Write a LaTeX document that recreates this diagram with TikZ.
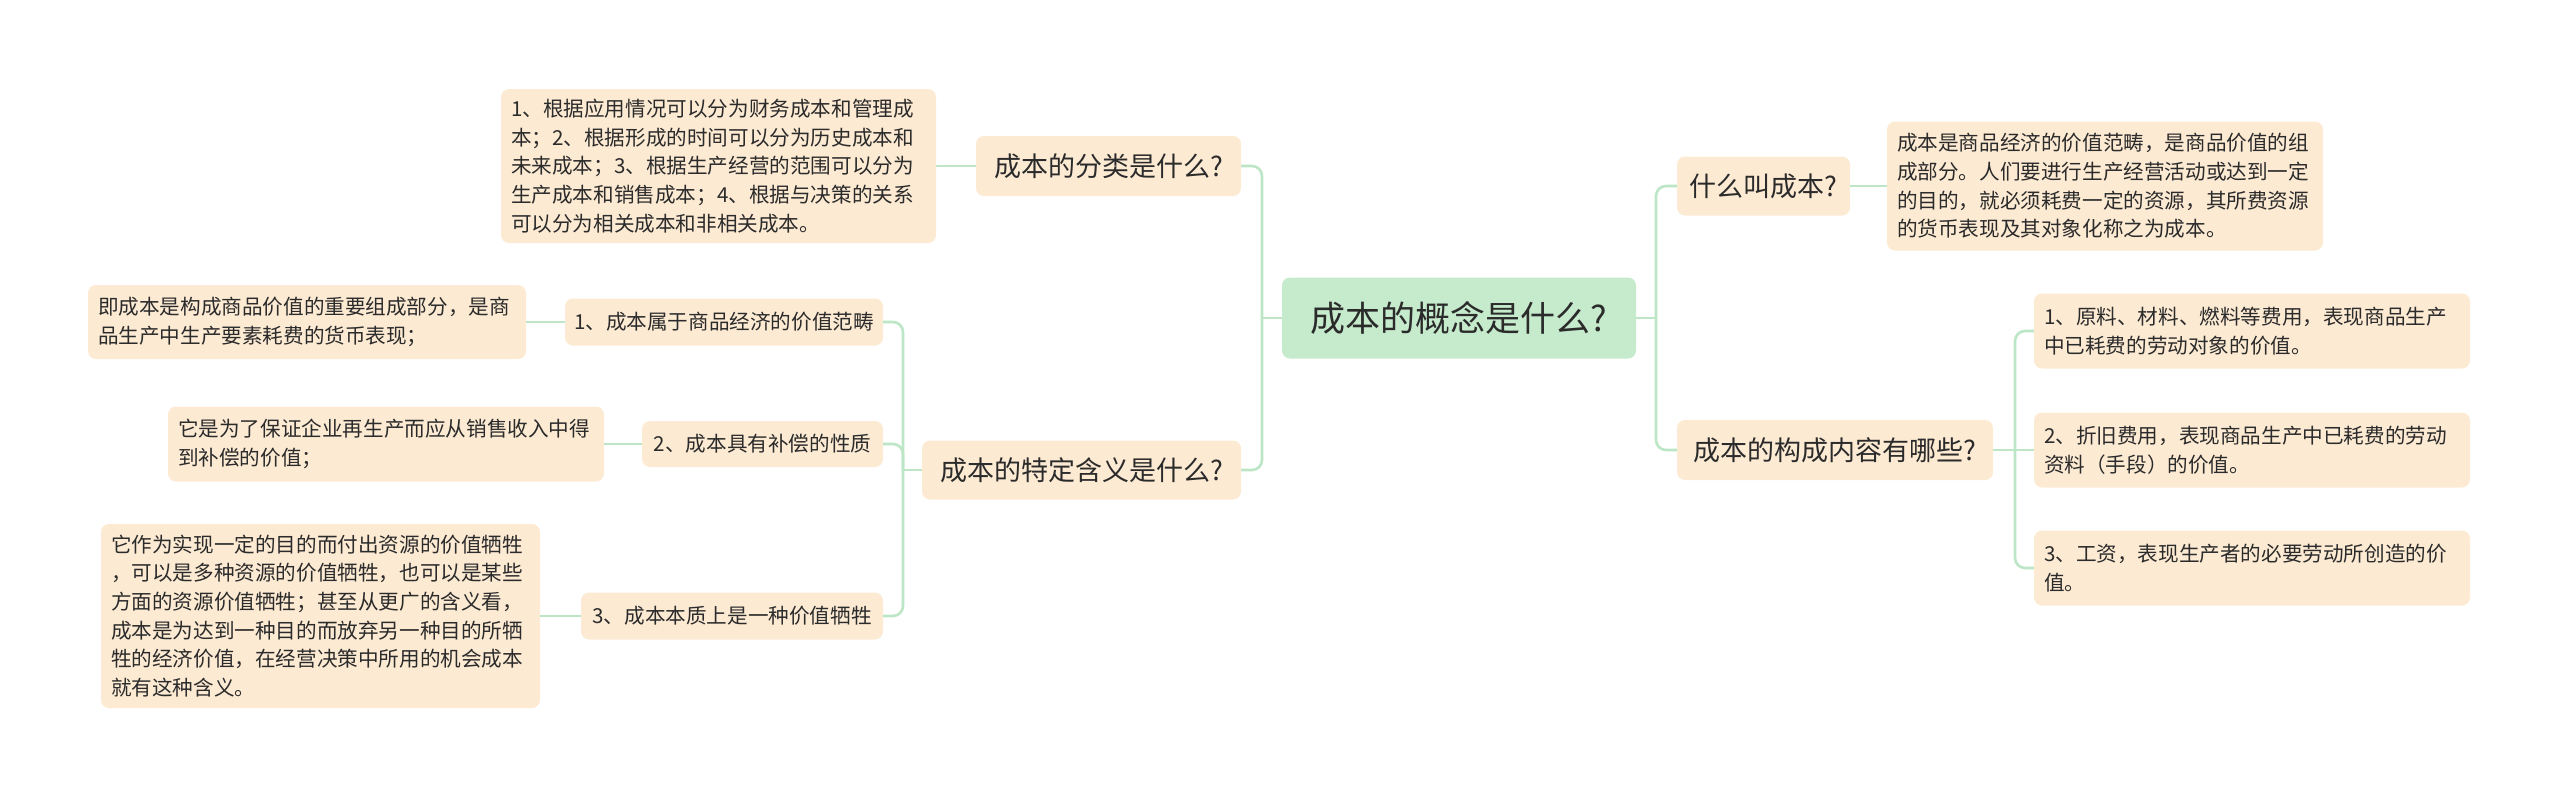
\documentclass[tikz,border=0pt]{standalone}
\usepackage{fontspec}
\setmainfont{Noto Sans CJK SC}
\definecolor{peach}{HTML}{FCEAD3}
\definecolor{rootg}{HTML}{C5EBCC}
\definecolor{linkc}{HTML}{BCE6C6}
\definecolor{txt}{HTML}{2B2B2B}
\tikzset{
  box/.style={fill=peach, rounded corners=8pt, text=txt, inner sep=0pt, align=center},
  rootbox/.style={box, fill=rootg, font=\fontsize{35}{40}\selectfont},
  topic/.style={box, font=\fontsize{27}{32}\selectfont},
  sub/.style={box, font=\fontsize{20.6}{26}\selectfont},
  leafbox/.style={box, font=\fontsize{20.6}{28.6}\selectfont, align=left, inner xsep=10pt},
  link/.style={draw=linkc, line width=2.6pt, rounded corners=10pt}
}
\begin{document}
\begin{tikzpicture}[x=1pt,y=-1pt]
\useasboundingbox (0,0) rectangle (2560,795);
% root
\node[rootbox, minimum width=354pt, minimum height=81pt] (root) at (1459,318) {成本的概念是什么?};
% left side
\node[topic, minimum width=265pt, minimum height=60pt] (a) at (1108.5,166) {成本的分类是什么?};
\node[leafbox, text width=415pt, minimum height=154pt] (aleaf) at (718.5,166) {1、根据应用情况可以分为财务成本和管理成\\本；2、根据形成的时间可以分为历史成本和\\未来成本；3、根据生产经营的范围可以分为\\生产成本和销售成本；4、根据与决策的关系\\可以分为相关成本和非相关成本。};
\node[topic, minimum width=319pt, minimum height=59pt] (b) at (1081.5,470) {成本的特定含义是什么?};
\node[sub, minimum width=318pt, minimum height=47pt] (b1) at (724,322) {1、成本属于商品经济的价值范畴};
\node[leafbox, text width=418pt, minimum height=74pt] (b1leaf) at (307,322) {即成本是构成商品价值的重要组成部分，是商\\品生产中生产要素耗费的货币表现；};
\node[sub, minimum width=241pt, minimum height=46pt] (b2) at (762.5,444) {2、成本具有补偿的性质};
\node[leafbox, text width=416pt, minimum height=75pt] (b2leaf) at (386,444) {它是为了保证企业再生产而应从销售收入中得\\到补偿的价值；};
\node[sub, minimum width=302pt, minimum height=47pt] (b3) at (732,616) {3、成本本质上是一种价值牺牲};
\node[leafbox, text width=419pt, minimum height=184pt] (b3leaf) at (320.5,616) {它作为实现一定的目的而付出资源的价值牺牲\\，可以是多种资源的价值牺牲，也可以是某些\\方面的资源价值牺牲；甚至从更广的含义看，\\成本是为达到一种目的而放弃另一种目的所牺\\牲的经济价值，在经营决策中所用的机会成本\\就有这种含义。};
% right side
\node[topic, minimum width=173pt, minimum height=59pt] (q) at (1763.5,186) {什么叫成本?};
\node[leafbox, text width=416pt, minimum height=129pt] (qleaf) at (2105,186) {成本是商品经济的价值范畴，是商品价值的组\\成部分。人们要进行生产经营活动或达到一定\\的目的，就必须耗费一定的资源，其所费资源\\的货币表现及其对象化称之为成本。};
\node[topic, minimum width=316pt, minimum height=60pt] (k) at (1835,450) {成本的构成内容有哪些?};
\node[leafbox, text width=416pt, minimum height=75pt] (k1) at (2252,331) {1、原料、材料、燃料等费用，表现商品生产\\中已耗费的劳动对象的价值。};
\node[leafbox, text width=416pt, minimum height=75pt] (k2) at (2252,450) {2、折旧费用，表现商品生产中已耗费的劳动\\资料（手段）的价值。};
\node[leafbox, text width=416pt, minimum height=75pt] (k3) at (2252,568) {3、工资，表现生产者的必要劳动所创造的价\\值。};
% junctions
\coordinate (rj) at (1656,318);
\coordinate (lj) at (1262,318);
\coordinate (bj) at (903,470);
\coordinate (kj) at (2015,450);
% connectors
\draw[link] (root.east) -- (rj);
\draw[link] (rj) |- (q.west);
\draw[link] (rj) |- (k.west);
\draw[link] (root.west) -- (lj);
\draw[link] (lj) |- (a.east);
\draw[link] (lj) |- (b.east);
\draw[link] (a.west) -- (aleaf.east);
\draw[link] (b.west) -- (bj);
\draw[link] (bj) |- (b1.east);
\draw[link] (bj) |- (b2.east);
\draw[link] (bj) |- (b3.east);
\draw[link] (b1.west) -- (b1leaf.east);
\draw[link] (b2.west) -- (b2leaf.east);
\draw[link] (b3.west) -- (b3leaf.east);
\draw[link] (q.east) -- (qleaf.west);
\draw[link] (k.east) -- (kj);
\draw[link] (kj) |- (k1.west);
\draw[link] (kj) -- (k2.west);
\draw[link] (kj) |- (k3.west);
\end{tikzpicture}
\end{document}
